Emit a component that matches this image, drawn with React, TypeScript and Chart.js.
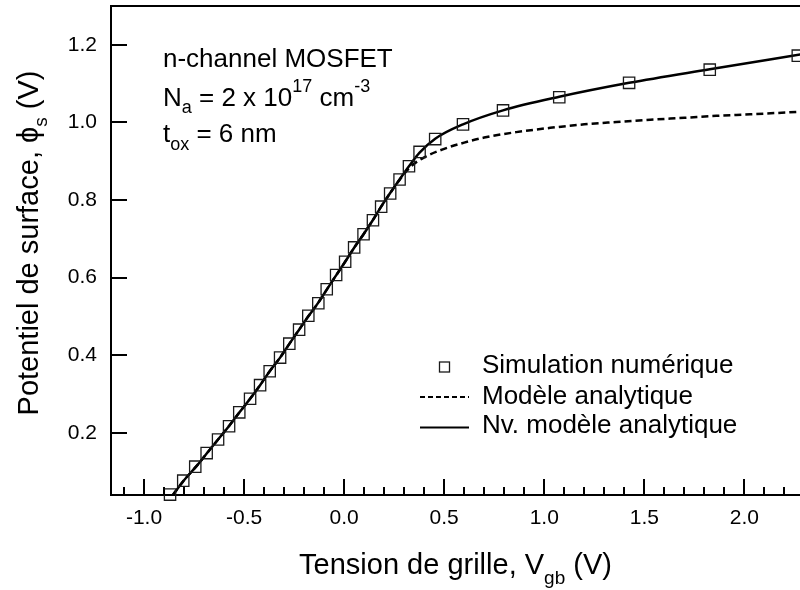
import React, { useEffect, useRef } from "react";
import { Chart, registerables } from "chart.js";

Chart.register(...registerables);

const FONT = '"Liberation Sans", Arial, Helvetica, sans-serif';

// Simulation numérique (squares)
const simVgb = [-0.87, -0.804, -0.744, -0.687, -0.63, -0.575, -0.524, -0.47, -0.42, -0.372, -0.32, -0.274, -0.225, -0.179, -0.129, -0.087, -0.04, 0.005, 0.05, 0.097, 0.144, 0.185, 0.23, 0.277, 0.324, 0.377, 0.455, 0.594, 0.794, 1.075, 1.424, 1.827, 2.267];
const simPhi = [0.041, 0.077, 0.113, 0.148, 0.183, 0.217, 0.253, 0.288, 0.323, 0.359, 0.394, 0.43, 0.466, 0.502, 0.534, 0.57, 0.607, 0.641, 0.678, 0.712, 0.748, 0.783, 0.817, 0.853, 0.887, 0.924, 0.957, 0.995, 1.031, 1.065, 1.102, 1.136, 1.172];

// Nv. modèle analytique (solid)
const nvVgb = [-0.856, -0.8, -0.74, -0.685, -0.63, -0.575, -0.523, -0.47, -0.42, -0.372, -0.32, -0.273, -0.225, -0.178, -0.13, -0.086, -0.04, 0.005, 0.05, 0.097, 0.143, 0.185, 0.23, 0.277, 0.324, 0.377, 0.455, 0.594, 0.794, 1.075, 1.424, 1.827, 2.3];
const nvPhi = [0.04, 0.078, 0.113, 0.148, 0.183, 0.218, 0.253, 0.288, 0.323, 0.359, 0.394, 0.43, 0.466, 0.501, 0.535, 0.57, 0.606, 0.641, 0.677, 0.712, 0.748, 0.783, 0.818, 0.853, 0.887, 0.922, 0.958, 0.995, 1.031, 1.066, 1.102, 1.137, 1.177];

// Modèle analytique (dashed)
const anVgb = [-0.856, -0.8, -0.74, -0.685, -0.63, -0.575, -0.523, -0.47, -0.42, -0.372, -0.32, -0.273, -0.225, -0.178, -0.13, -0.086, -0.04, 0.005, 0.05, 0.097, 0.143, 0.185, 0.23, 0.277, 0.33, 0.4, 0.5, 0.6, 0.7, 0.86, 1.03, 1.2, 1.36, 1.53, 1.7, 1.86, 2.03, 2.3];
const anPhi = [0.04, 0.078, 0.113, 0.148, 0.183, 0.218, 0.253, 0.288, 0.323, 0.359, 0.394, 0.43, 0.466, 0.501, 0.535, 0.57, 0.606, 0.641, 0.677, 0.712, 0.748, 0.783, 0.818, 0.852, 0.885, 0.91, 0.932, 0.948, 0.961, 0.975, 0.986, 0.995, 1.001, 1.007, 1.012, 1.017, 1.021, 1.028];

const seriesLabels = ["Simulation numérique", "Modèle analytique", "Nv. modèle analytique"];

const xMajorTicks = [-1.0, -0.5, 0.0, 0.5, 1.0, 1.5, 2.0];
const xMinorTicks = [-1.1, -0.9, -0.8, -0.7, -0.6, -0.4, -0.3, -0.2, -0.1, 0.1, 0.2, 0.3, 0.4, 0.6, 0.7, 0.8, 0.9, 1.1, 1.2, 1.3, 1.4, 1.6, 1.7, 1.8, 1.9, 2.1, 2.2];
const yMajorTicks = [0.2, 0.4, 0.6, 0.8, 1.0, 1.2];

const X_MIN = -1.165;
const X_MAX = 2.278;
const Y_MIN = 0.04;
const Y_MAX = 1.3;

type Seg = { t: string; s: number; dy: number };

function segWidth(ctx: CanvasRenderingContext2D, segs: Seg[]) {
  let w = 0;
  for (const g of segs) {
    ctx.font = `${g.s}px ${FONT}`;
    w += ctx.measureText(g.t).width;
  }
  return w;
}

function drawRich(ctx: CanvasRenderingContext2D, x: number, y: number, segs: Seg[]) {
  let cx = x;
  for (const g of segs) {
    ctx.font = `${g.s}px ${FONT}`;
    ctx.fillText(g.t, cx, y + g.dy);
    cx += ctx.measureText(g.t).width;
  }
}

const zeroPad = (s: any) => {
  s.paddingTop = 0;
  s.paddingBottom = 0;
  s.paddingLeft = 0;
  s.paddingRight = 0;
};

const decorPlugin = {
  id: "decor",
  afterDraw(chart: any) {
    const ctx: CanvasRenderingContext2D = chart.ctx;
    const ca = chart.chartArea;
    const xs = chart.scales.x;
    const ys = chart.scales.y;
    ctx.save();
    ctx.strokeStyle = "#000";
    ctx.fillStyle = "#000";
    ctx.lineWidth = 2;
    // top frame
    ctx.beginPath();
    ctx.moveTo(ca.left - 1, ca.top);
    ctx.lineTo(800, ca.top);
    ctx.stroke();
    // inward ticks
    ctx.beginPath();
    for (const v of yMajorTicks) {
      const py = Math.round(ys.getPixelForValue(v));
      ctx.moveTo(ca.left, py);
      ctx.lineTo(ca.left + 16, py);
    }
    for (const v of xMajorTicks) {
      const px = Math.round(xs.getPixelForValue(v));
      ctx.moveTo(px, ca.bottom);
      ctx.lineTo(px, ca.bottom - 16);
    }
    for (const v of xMinorTicks) {
      const px = Math.round(xs.getPixelForValue(v));
      ctx.moveTo(px, ca.bottom);
      ctx.lineTo(px, ca.bottom - 8);
    }
    ctx.stroke();

    ctx.textBaseline = "alphabetic";
    ctx.textAlign = "left";

    // x title
    const xt: Seg[] = [
      { t: "Tension de grille, V", s: 29, dy: 0 },
      { t: "gb", s: 19, dy: 10 },
      { t: " (V)", s: 29, dy: 0 },
    ];
    const xw = segWidth(ctx, xt);
    drawRich(ctx, (ca.left + ca.right) / 2 - xw / 2, 574, xt);

    // y title
    const yt: Seg[] = [
      { t: "Potentiel de surface, ϕ", s: 29, dy: 0 },
      { t: "s", s: 19, dy: 9 },
      { t: " (V)", s: 29, dy: 0 },
    ];
    const yw = segWidth(ctx, yt);
    ctx.save();
    ctx.translate(38, 243);
    ctx.rotate(-Math.PI / 2);
    drawRich(ctx, -yw / 2, 0, yt);
    ctx.restore();

    // annotation
    drawRich(ctx, 163, 67, [{ t: "n-channel MOSFET", s: 26, dy: 0 }]);
    drawRich(ctx, 163, 106, [
      { t: "N", s: 26, dy: 0 },
      { t: "a", s: 18, dy: 7 },
      { t: " = 2 x 10", s: 26, dy: 0 },
      { t: "17", s: 18, dy: -14 },
      { t: " cm", s: 26, dy: 0 },
      { t: "-3", s: 18, dy: -14 },
    ]);
    drawRich(ctx, 163, 142, [
      { t: "t", s: 26, dy: 0 },
      { t: "ox", s: 18, dy: 8 },
      { t: " = 6 nm", s: 26, dy: 0 },
    ]);

    // legend
    ctx.font = `26px ${FONT}`;
    ctx.fillText(seriesLabels[0], 482, 373);
    ctx.fillText(seriesLabels[1], 482, 404);
    ctx.fillText(seriesLabels[2], 482, 433);
    ctx.lineWidth = 1.3;
    ctx.strokeStyle = "#1a1a1a";
    ctx.strokeRect(439.5, 362, 10, 10);
    ctx.strokeStyle = "#000";
    ctx.lineWidth = 2;
    ctx.setLineDash([5, 3]);
    ctx.beginPath();
    ctx.moveTo(420, 397);
    ctx.lineTo(469, 397);
    ctx.stroke();
    ctx.setLineDash([]);
    ctx.beginPath();
    ctx.moveTo(420, 427.5);
    ctx.lineTo(469, 427.5);
    ctx.stroke();
    ctx.restore();
  },
};

export default function App() {
  const ref = useRef<HTMLCanvasElement | null>(null);
  useEffect(() => {
    document.body.style.margin = "0";
    const canvas = ref.current;
    if (!canvas) return;
    const chart = new Chart(canvas, {
      type: "scatter",
      data: {
        datasets: [
          {
            label: seriesLabels[0],
            data: simVgb.map((v, i) => ({ x: v, y: simPhi[i] })),
            pointStyle: "rect",
            pointRadius: 8,
            pointBorderWidth: 1.3,
            borderColor: "#1a1a1a",
            backgroundColor: "rgba(0,0,0,0)",
            showLine: false,
            clip: false,
          } as any,
          {
            label: seriesLabels[1],
            data: anVgb.map((v, i) => ({ x: v, y: anPhi[i] })),
            showLine: true,
            borderColor: "#000",
            borderWidth: 2.5,
            borderDash: [7, 4],
            pointRadius: 0,
            cubicInterpolationMode: "monotone",
          } as any,
          {
            label: seriesLabels[2],
            data: nvVgb.map((v, i) => ({ x: v, y: nvPhi[i] })),
            showLine: true,
            borderColor: "#000",
            borderWidth: 2.5,
            pointRadius: 0,
            cubicInterpolationMode: "monotone",
          } as any,
        ],
      },
      options: {
        animation: false,
        responsive: false,
        devicePixelRatio: 1,
        layout: { autoPadding: false, padding: { top: 6, right: 0, left: 0, bottom: 0 } },
        plugins: { legend: { display: false }, tooltip: { enabled: false } },
        scales: {
          x: {
            type: "linear",
            min: X_MIN,
            max: X_MAX,
            afterFit: (s: any) => {
              s.height = 95;
              zeroPad(s);
            },
            afterBuildTicks: (s: any) => {
              s.ticks = xMajorTicks.map((v) => ({ value: v }));
            },
            grid: { display: false, drawTicks: false },
            border: { display: true, color: "#000", width: 2 },
            ticks: {
              padding: 11,
              color: "#000",
              font: { family: FONT, size: 21 },
              maxRotation: 0,
              autoSkip: false,
              callback: (v: any) => Number(v).toFixed(1),
            },
          },
          y: {
            type: "linear",
            min: Y_MIN,
            max: Y_MAX,
            afterFit: (s: any) => {
              s.width = 111;
              zeroPad(s);
            },
            afterBuildTicks: (s: any) => {
              s.ticks = yMajorTicks.map((v) => ({ value: v }));
            },
            grid: { display: false, drawTicks: false },
            border: { display: true, color: "#000", width: 2 },
            ticks: {
              padding: 14,
              color: "#000",
              font: { family: FONT, size: 21 },
              autoSkip: false,
              callback: (v: any) => Number(v).toFixed(1),
            },
          },
        },
      } as any,
      plugins: [decorPlugin],
    });
    return () => chart.destroy();
  }, []);
  return (
    <div style={{ width: 800, height: 590, background: "#fff" }}>
      <canvas ref={ref} width={800} height={590} style={{ display: "block" }} />
    </div>
  );
}
